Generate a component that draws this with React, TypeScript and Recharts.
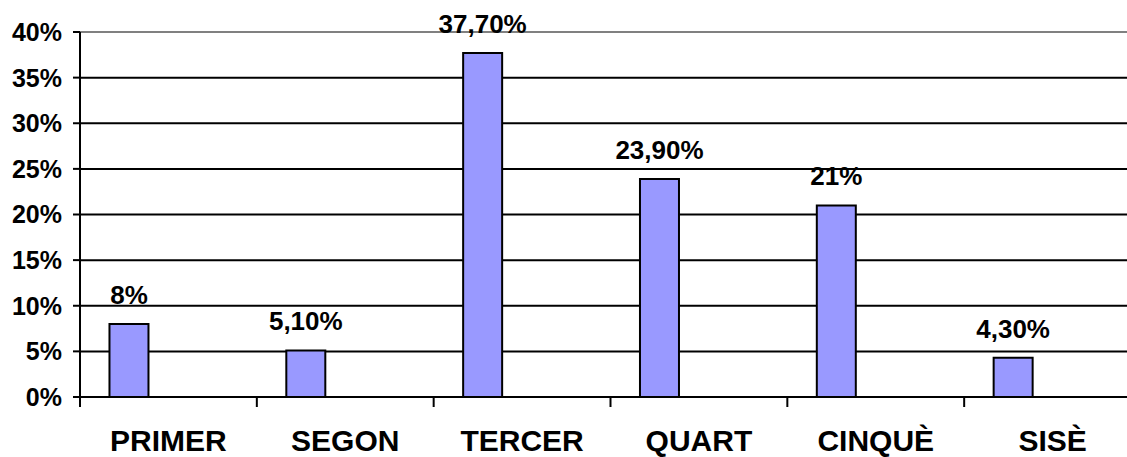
import { BarChart, Bar, XAxis, YAxis, CartesianGrid, ReferenceLine, LabelList } from "recharts"

const categories = ["PRIMER", "SEGON", "TERCER", "QUART", "CINQUÈ", "SISÈ"]
const values = [8, 5.1, 37.7, 23.9, 21, 4.3]
const valueLabels = ["8%", "5,10%", "37,70%", "23,90%", "21%", "4,30%"]
const yTicks = [0, 5, 10, 15, 20, 25, 30, 35, 40]
const edgeTicks = [0, 1, 2, 3, 4, 5, 6]

const FONT = "'Liberation Sans', Arial, sans-serif"

// les dues sèries buides només ocupen lloc, com al gràfic original
const data = categories.map((name, i) => ({
  name,
  value: values[i],
  label: valueLabels[i],
}))

const ValueLabel = (props: any) => {
  const { x, y, width, index } = props
  return (
    <text
      x={x + width / 2}
      y={y - 20}
      textAnchor="middle"
      fontSize={26}
      fontWeight="bold"
      fontFamily={FONT}
      fill="#000"
    >
      {valueLabels[index]}
    </text>
  )
}

export default function App() {
  return (
    <div
      style={{
        position: "absolute",
        left: 0,
        top: 0,
        width: 1127,
        height: 457,
        overflow: "hidden",
        background: "#fff",
      }}
    >
      <BarChart
        width={1150}
        height={457}
        data={data}
        margin={{ top: 32, right: 9, left: 0, bottom: 0 }}
        barCategoryGap="16.67%"
        barGap={0}
      >
        <CartesianGrid vertical={false} stroke="#000" strokeWidth={2} />
        {/* marques entre categories, com a Excel */}
        <XAxis
          type="number"
          dataKey={(d: any) => categories.indexOf(d.name)}
          domain={[0, 6]}
          allowDataOverflow
          ticks={edgeTicks}
          height={1}
          tickFormatter={() => ""}
          axisLine={false}
          tickSize={10}
          tickLine={{ stroke: "#000", strokeWidth: 2 }}
        />
        <XAxis
          xAxisId="cat"
          dataKey="name"
          height={59}
          tickLine={false}
          axisLine={false}
          tickMargin={26}
          tick={{ fontSize: 30, fontWeight: "bold", fill: "#000", fontFamily: FONT }}
          interval={0}
        />
        <YAxis
          width={80}
          domain={[0, 40]}
          ticks={yTicks}
          tickFormatter={(v: number) => `${v}%`}
          axisLine={{ stroke: "#000", strokeWidth: 2 }}
          tickLine={{ stroke: "#000", strokeWidth: 2 }}
          tickSize={7}
          tickMargin={11}
          tick={{ fontSize: 25, fontWeight: "bold", fill: "#000", fontFamily: FONT }}
        />
        <ReferenceLine y={40} stroke="#808080" strokeWidth={2} />
        <ReferenceLine y={0} stroke="#000" strokeWidth={2} />
        <Bar xAxisId="cat" dataKey="value" fill="#9999FF" stroke="#000" strokeWidth={2} isAnimationActive={false}>
          <LabelList dataKey="label" content={ValueLabel} />
        </Bar>
        <Bar xAxisId="cat" dataKey="serie2" isAnimationActive={false} />
        <Bar xAxisId="cat" dataKey="serie3" isAnimationActive={false} />
      </BarChart>
    </div>
  )
}
